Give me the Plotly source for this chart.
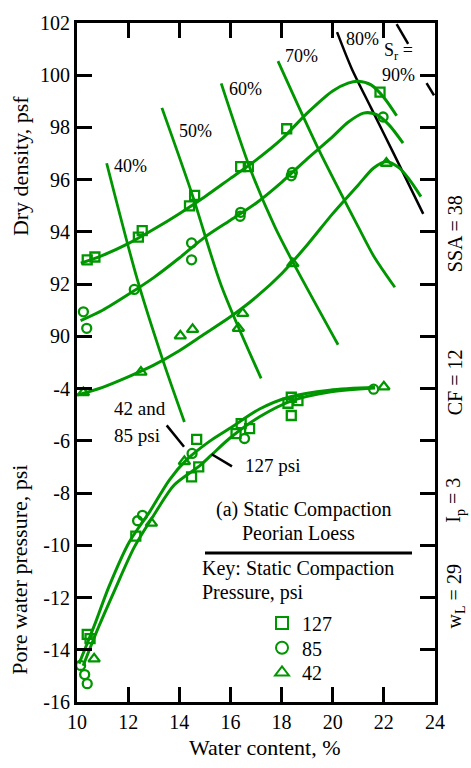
import plotly.graph_objects as go

GREEN = "#009600"
FONT = "Liberation Serif"

# ---- Dry density data (psf) ----
d127_w = [10.4, 10.7, 12.4, 12.55, 14.4, 14.6, 16.4, 16.7, 18.2, 21.85]
d127_d = [92.93, 93.04, 93.8, 94.05, 95.0, 95.4, 96.5, 96.5, 97.95, 99.35]
d85_w = [10.25, 10.38, 12.24, 14.48, 14.48, 16.38, 16.4, 18.38, 18.42, 21.97]
d85_d = [90.94, 90.31, 91.8, 93.58, 92.93, 94.6, 94.75, 96.15, 96.28, 98.4]
d42_w = [10.25, 12.5, 14.04, 14.52, 16.31, 16.48, 18.44, 22.1]
d42_d = [87.85, 88.63, 90.02, 90.27, 90.31, 90.88, 92.79, 96.63]

# fitted compaction curves
c127_w = [10.15, 11.0, 12.0, 13.0, 14.0, 15.0, 16.0, 17.0, 18.0, 19.0, 20.0, 20.6, 21.0, 21.5, 22.0, 22.5]
c127_d = [92.8, 93.1, 93.55, 94.1, 94.7, 95.35, 96.05, 96.75, 97.55, 98.55, 99.4, 99.7, 99.77, 99.63, 99.15, 98.45]
c85_w = [10.14, 11.0, 12.0, 13.0, 14.0, 15.0, 16.0, 17.0, 18.0, 19.0, 20.0, 20.6, 21.2, 21.7, 22.2, 22.75]
c85_d = [90.6, 91.0, 91.6, 92.25, 93.0, 93.8, 94.45, 95.1, 95.9, 96.8, 97.65, 98.2, 98.55, 98.5, 98.1, 97.4]
c42_w = [10.0, 11.0, 12.0, 13.0, 14.0, 15.0, 16.0, 17.0, 18.0, 19.0, 20.0, 21.0, 21.6, 22.1, 22.6, 23.0, 23.45]
c42_d = [87.75, 88.05, 88.45, 88.9, 89.45, 90.1, 90.75, 91.5, 92.4, 93.5, 94.7, 95.8, 96.45, 96.7, 96.45, 96.0, 95.35]

# degree of saturation lines
s40_w = [11.16, 12.35, 13.35, 14.2]
s40_d = [96.63, 92.21, 89.11, 86.72]
s50_w = [13.32, 14.51, 15.64, 17.2]
s50_d = [98.75, 95.42, 91.95, 88.39]
s60_w = [15.64, 16.75, 17.73, 18.38, 20.21]
s60_d = [99.69, 96.48, 94.21, 92.96, 89.68]
s70_w = [17.86, 19.41, 20.99, 21.6, 22.43]
s70_d = [100.54, 97.24, 94.21, 93.08, 91.88]
s80_w = [20.17, 20.74, 21.5, 22.4, 23.54]
s80_d = [101.65, 100.26, 98.75, 96.97, 94.69]
s90a_w = [22.5, 22.95]
s90a_d = [101.96, 101.2]
s90b_w = [23.67, 23.96]
s90b_d = [99.7, 99.23]

# ---- Pore water pressure data (psi) ----
p127_w = [10.4, 10.51, 12.3, 14.48, 14.76, 14.68, 16.22, 16.42, 16.75, 18.25, 18.38, 18.64, 18.38]
p127_p = [-13.41, -13.57, -9.65, -7.38, -7.0, -5.94, -5.72, -5.34, -5.53, -4.56, -4.33, -4.46, -5.03]
p85_w = [10.14, 10.3, 10.4, 12.37, 12.56, 14.5, 16.55, 21.6]
p85_p = [-14.6, -14.95, -15.3, -9.06, -8.85, -6.48, -5.91, -4.02]
p42_w = [10.67, 12.91, 14.2, 22.0]
p42_p = [-14.35, -9.15, -6.79, -3.93]

cpA_w = [10.08, 10.67, 11.25, 12.04, 12.82, 13.61, 14.27, 15.18, 15.96, 17.14, 18.31, 19.88, 21.65]
cpA_p = [-14.53, -13.09, -11.58, -9.88, -8.75, -7.5, -6.74, -6.02, -5.53, -4.78, -4.32, -4.06, -3.95]
cpB_w = [10.24, 10.86, 11.45, 12.24, 13.02, 13.8, 14.78, 15.25, 15.96, 17.14, 18.39, 19.88, 21.65]
cpB_p = [-14.61, -13.09, -11.77, -10.07, -8.82, -7.69, -6.97, -6.55, -5.91, -5.08, -4.47, -4.13, -3.98]

x_ticks = [10, 12, 14, 16, 18, 20, 22, 24]
p_ticks = [-16, -14, -12, -10, -8, -6, -4]
d_ticks = [90, 92, 94, 96, 98, 100, 102]

# plot area in pixels
L, R, T, B = 77, 435, 14, 702
def px(x):
    return (x - L) / (R - L)
def py(y):
    return (B - y) / (B - T)

fig = go.Figure()

def line(xs, ys, axis, color=GREEN, width=3, shape="spline"):
    fig.add_trace(go.Scatter(x=xs, y=ys, yaxis=axis, mode="lines",
                             line=dict(color=color, width=width, shape=shape, smoothing=0.8),
                             showlegend=False, hoverinfo="skip"))

# saturation lines
for xs, ys in [(s40_w, s40_d), (s50_w, s50_d), (s60_w, s60_d), (s70_w, s70_d)]:
    line(xs, ys, "y2", GREEN, 2.8)
for xs, ys in [(s80_w, s80_d), (s90a_w, s90a_d), (s90b_w, s90b_d)]:
    line(xs, ys, "y2", "black", 2.5)

# compaction curves
for xs, ys in [(c127_w, c127_d), (c85_w, c85_d), (c42_w, c42_d)]:
    line(xs, ys, "y2", GREEN, 3)
# pore pressure curves
for xs, ys in [(cpA_w, cpA_p), (cpB_w, cpB_p)]:
    line(xs, ys, "y", GREEN, 3)

def pts(xs, ys, axis, sym, size, name, show, leg):
    fig.add_trace(go.Scatter(x=xs, y=ys, yaxis=axis, mode="markers", name=name,
                             legendgroup=name, showlegend=show, legend=leg,
                             marker=dict(symbol=sym, size=size, color=GREEN,
                                         line=dict(color=GREEN, width=2.3))))

pts(d127_w, d127_d, "y2", "square-open", 9, "127", True, "legend")
pts(p127_w, p127_p, "y", "square-open", 9, "127", False, "legend")
pts(d85_w, d85_d, "y2", "circle-open", 9, "85", True, "legend2")
pts(p85_w, p85_p, "y", "circle-open", 9, "85", False, "legend2")
pts(d42_w, d42_d, "y2", "triangle-up-open", 10, "42", True, "legend3")
pts(p42_w, p42_p, "y", "triangle-up-open", 10, "42", False, "legend3")

tickfont = dict(family=FONT, size=20, color="black")
axis_common = dict(showline=True, linewidth=3, linecolor="black", mirror="ticks",
                   ticks="inside", ticklen=15, tickwidth=3, tickcolor="black",
                   showgrid=False, zeroline=False, tickfont=tickfont)

def legend_at(ypix):
    return dict(x=px(262), y=py(ypix), xanchor="left", yanchor="middle",
                font=dict(family=FONT, size=20, color="black"),
                itemsizing="constant", bgcolor="rgba(0,0,0,0)")

fig.update_layout(
    width=471, height=768,
    margin=dict(l=L, r=471 - R, t=T, b=768 - B),
    paper_bgcolor="white", plot_bgcolor="white",
    xaxis=dict(range=[10, 24], tickvals=x_ticks, ticktext=[str(v) for v in x_ticks], **axis_common),
    yaxis=dict(range=[-16, 10], tickvals=p_ticks, ticktext=[str(v) for v in p_ticks], **axis_common),
    yaxis2=dict(range=[76, 102], tickvals=d_ticks, ticktext=[str(v) for v in d_ticks],
                overlaying="y", side="left", **axis_common),
    showlegend=True,
    legend=legend_at(622),
    legend2=legend_at(647),
    legend3=legend_at(672),
    font=dict(family=FONT, color="black"),
)

def ann(text, x, y, size=20, xanchor="center", angle=0, align="center"):
    fig.add_annotation(text=text, x=px(x), y=py(y), xref="paper", yref="paper",
                       showarrow=False, xanchor=xanchor, yanchor="middle",
                       textangle=angle, align=align,
                       font=dict(family=FONT, size=size, color="black"))

# axis titles
ann("Water content, %", 265, 748, 22)
ann("Dry density, psf", 20, 159, 22, angle=-90)
ann("Pore water pressure, psi", 20, 568, 22, angle=-90)

# saturation labels
ann("40%", 130, 159, 18)
ann("50%", 195, 123, 18)
ann("60%", 245, 81, 18)
ann("70%", 301, 47, 18)
ann("80%", 362, 30, 18)
ann("S<sub>r</sub> =", 398, 43, 18)
ann("90%", 398, 67, 18)

# curve labels
ann("42 and", 112, 405, 19, xanchor="left")
ann("85 psi", 112, 432, 19, xanchor="left")
ann("127 psi", 243, 462, 19, xanchor="left")

# leader lines
fig.add_shape(type="line", xref="paper", yref="paper", x0=px(166.7), y0=py(421.7),
              x1=px(184), y1=py(443.3), line=dict(color="black", width=2.5))
fig.add_shape(type="line", xref="paper", yref="paper", x0=px(211.7), y0=py(451),
              x1=px(232), y1=py(463.3), line=dict(color="black", width=2.5))

# key box text
ann("(a) Static Compaction", 304, 507, 20)
ann("Peorian Loess", 298, 531, 20)
fig.add_shape(type="line", xref="paper", yref="paper", x0=px(205), y0=py(551),
              x1=px(412), y1=py(551), line=dict(color="black", width=3))
ann("Key: Static Compaction", 200, 567, 20, xanchor="left")
ann("Pressure, psi", 200, 591, 20, xanchor="left")

# right-side soil properties
ann("SSA = 38", 455, 228, 20, angle=-90)
ann("CF = 12", 455, 378, 20, angle=-90)
ann("I<sub>p</sub> = 3", 455, 498, 20, angle=-90)
ann("w<sub>L</sub> = 29", 455, 595, 20, angle=-90)

fig.write_html("out.html")
